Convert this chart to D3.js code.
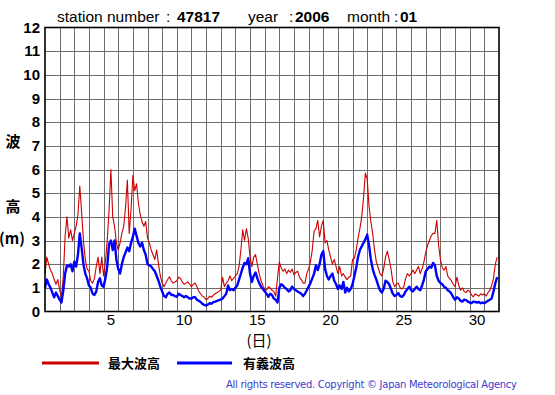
<!DOCTYPE html>
<html>
<head>
<meta charset="utf-8">
<script src="https://cdn.jsdelivr.net/npm/d3@7"></script>
<style>
  body { margin: 0; background: #fff; }
  svg { display: block; }
  text { font-family: "Liberation Sans", Arial, sans-serif; }
  .jp { font-family: "Noto Sans CJK JP", sans-serif; }
</style>
</head>
<body>
<div id="chart"></div>
<script>
'use strict';

var station = '47817';
var year = '2006';
var month = '01';

// 3-hourly samples, day 1 00h .. day 31 21h
var stepHours = 3;

// max wave height (m)
var maxWave = [
  1.6, 2.3, 2.0, 1.75, 1.6, 1.35, 1.15, 1.35,
  0.9, 0.6, 1.5, 3.2, 4.0, 3.1, 3.45, 3.0,
  3.3, 3.6, 4.1, 5.3, 4.2, 3.0, 2.2, 1.8,
  1.7, 1.3, 1.2, 1.4, 1.9, 2.3, 1.6, 2.3,
  1.5, 2.1, 3.0, 4.3, 6.0, 4.0, 3.6, 2.9,
  2.6, 2.9, 3.3, 3.6, 4.4, 5.55, 3.3, 4.3,
  5.75, 5.1, 5.4, 4.6, 4.1, 3.8, 3.6, 3.8,
  3.1, 2.9, 2.6, 2.4, 2.2, 2.6, 2.0, 1.5,
  1.2, 1.05, 1.2, 1.35, 1.47, 1.3, 1.2, 1.25,
  1.3, 1.45, 1.4, 1.25, 1.15, 1.2, 1.25, 1.15,
  1.05, 1.15, 1.2, 1.05, 0.85, 0.75, 0.65, 0.6,
  0.5, 0.55, 0.65, 0.6, 0.7, 0.75, 0.8, 0.85,
  0.9, 1.45, 1.05, 1.2, 1.3, 1.5, 1.3, 1.4,
  1.5, 1.6, 1.9, 2.6, 3.45, 3.0, 3.5, 3.1,
  2.3, 1.9, 2.3, 2.4, 2.0, 1.6, 1.3, 1.1,
  0.95, 0.9, 1.05, 1.0, 0.9, 0.85, 0.65, 1.4,
  2.1, 1.85, 1.7, 1.8, 1.6, 1.75, 1.65, 1.8,
  1.55, 1.65, 1.7, 1.45, 1.35, 1.2, 1.2, 1.6,
  1.8, 2.1, 2.6, 3.4, 3.5, 3.85, 3.15, 3.6,
  3.85, 2.9, 3.0, 2.6, 2.3, 2.0, 2.2, 1.9,
  1.6, 1.9, 1.5, 1.6, 1.45, 1.35, 1.45, 1.5,
  2.2, 2.25, 2.6, 3.1, 3.5, 4.0, 4.8, 5.85,
  5.6, 4.45, 3.8, 3.3, 2.6, 2.1, 1.85, 1.6,
  1.5, 1.8, 2.3, 2.55, 2.2, 1.8, 1.25, 1.05,
  1.15, 1.2, 1.0, 0.95, 1.05, 1.4, 1.6, 1.5,
  1.6, 1.75, 1.6, 1.75, 1.9, 1.6, 1.8, 2.1,
  2.5, 2.8, 3.0, 3.2, 3.3, 3.3, 3.85, 2.8,
  2.2, 1.85, 1.75, 1.9, 1.5, 1.4, 1.3, 1.15,
  1.05, 1.45, 1.1, 0.9, 1.0, 0.85, 0.8, 0.9,
  0.85, 0.7, 0.62, 0.75, 0.7, 0.65, 0.75, 0.7,
  0.75, 0.65, 0.8, 0.9, 1.1, 1.4, 2.0, 2.3
];

// significant wave height (m)
var sigWave = [
  1.0, 1.35, 1.15, 1.0, 0.8, 0.6, 0.8, 0.65,
  0.5, 0.38, 0.9, 1.6, 1.95, 1.9, 2.0, 1.7,
  2.1, 1.9, 2.4, 3.3, 2.7, 2.0, 1.6, 1.4,
  1.1, 1.0, 0.75, 0.7, 0.85, 1.25, 1.4, 1.1,
  1.05, 1.4, 1.9, 2.85, 3.0, 2.6, 3.0, 2.2,
  1.8, 1.6, 2.0, 2.3, 2.5, 2.7, 2.55, 2.9,
  3.15, 3.5, 3.2, 2.9, 2.75, 2.9, 2.6, 2.4,
  2.0, 1.95, 1.9, 1.8, 1.7, 1.5, 1.3, 1.05,
  0.85, 0.65, 0.6, 0.75, 0.8, 0.7, 0.7, 0.65,
  0.62, 0.75, 0.7, 0.65, 0.6, 0.65, 0.6, 0.55,
  0.55, 0.6, 0.6, 0.5, 0.45, 0.4, 0.32, 0.28,
  0.25, 0.3, 0.35, 0.33, 0.4, 0.42, 0.45, 0.48,
  0.5, 0.55, 0.65, 0.75, 1.1, 0.9, 0.95, 0.9,
  1.0, 1.1, 1.35, 1.6, 1.85, 2.05, 2.0, 2.25,
  1.6, 1.25, 1.5, 1.65, 1.4, 1.2, 1.05, 0.95,
  0.85, 0.75, 0.62, 0.75, 0.7, 0.55, 0.5, 0.38,
  1.0, 1.15, 1.1, 1.0, 0.95, 0.85, 0.9, 1.05,
  0.95, 0.9, 0.85, 0.8, 0.75, 0.65, 0.75, 0.9,
  1.05, 1.2, 1.4, 1.6, 1.95, 1.75, 2.0, 2.4,
  2.55, 1.8, 1.5, 1.35, 1.5, 1.6, 1.3, 1.15,
  0.95, 1.1, 0.95, 1.25, 0.8, 1.0, 0.85, 0.95,
  1.15, 1.5, 1.85, 2.3, 2.6, 2.75, 2.9, 3.05,
  3.25, 2.8, 2.2, 1.8, 1.55, 1.35, 1.1, 0.9,
  0.8, 0.95, 1.3, 1.25, 1.15, 0.95, 0.75, 0.65,
  0.7, 0.78, 0.65, 0.62, 0.7, 0.85, 0.95, 1.05,
  0.9, 0.85, 0.95, 1.05, 0.95, 0.9, 1.1, 1.35,
  1.7, 1.8, 1.9, 1.85, 2.05, 1.95, 1.5, 1.3,
  1.2, 1.15, 1.05, 1.0, 0.9, 0.85, 0.75, 0.6,
  0.5, 0.6, 0.55, 0.45, 0.42, 0.5, 0.48, 0.42,
  0.38, 0.35, 0.42, 0.4, 0.38, 0.4, 0.35, 0.38,
  0.35, 0.4, 0.45, 0.5, 0.55, 0.85, 1.2, 1.45
];

var yTicks = [0, 1, 2, 3, 4, 5, 6, 7, 8, 9, 10, 11, 12];
var xTickDays = [5, 10, 15, 20, 25, 30];
var legendNames = ['最大波高', '有義波高'];

var W = 555, H = 395;
var box = { left: 45, right: 499, top: 27.5, bottom: 311.5 };

var svg = d3.select('#chart').append('svg')
  .attr('width', W)
  .attr('height', H);

var x = d3.scaleLinear().domain([1, 32]).range([box.left, box.right]);
var y = d3.scaleLinear().domain([0, 12]).range([box.bottom, box.top]);

// grid
var grid = svg.append('g').attr('class', 'grid')
  .attr('stroke', '#6e6e6e')
  .attr('stroke-width', 1)
  .attr('shape-rendering', 'crispEdges');

grid.selectAll('line.h')
  .data(yTicks.slice(1, -1))
  .enter().append('line')
  .attr('class', 'h')
  .attr('x1', box.left).attr('x2', box.right)
  .attr('y1', (d) => Math.round(y(d)) + 0.5)
  .attr('y2', (d) => Math.round(y(d)) + 0.5);

grid.selectAll('line.v')
  .data(d3.range(2, 32))
  .enter().append('line')
  .attr('class', 'v')
  .attr('y1', box.top).attr('y2', box.bottom)
  .attr('x1', (d) => Math.round(x(d)) + 0.5)
  .attr('x2', (d) => Math.round(x(d)) + 0.5);

// series
var t = (d, i) => 1 + i * stepHours / 24;

var line = d3.line()
  .x((d, i) => x(t(d, i)))
  .y((d) => y(d));

svg.append('path')
  .datum(maxWave)
  .attr('fill', 'none')
  .attr('stroke', '#cc0000')
  .attr('stroke-width', 1.1)
  .attr('stroke-linejoin', 'round')
  .attr('d', line);

svg.append('path')
  .datum(sigWave)
  .attr('fill', 'none')
  .attr('stroke', '#0000ff')
  .attr('stroke-width', 2.4)
  .attr('stroke-linejoin', 'round')
  .attr('d', line);

// frame
svg.append('rect')
  .attr('x', box.left).attr('y', box.top)
  .attr('width', box.right - box.left)
  .attr('height', box.bottom - box.top)
  .attr('fill', 'none')
  .attr('stroke', '#000')
  .attr('stroke-width', 1.6);

// y axis labels
svg.append('g')
  .selectAll('text')
  .data(yTicks)
  .enter().append('text')
  .attr('x', 40)
  .attr('y', (d) => y(d) + 5)
  .attr('text-anchor', 'end')
  .attr('font-size', 15)
  .attr('font-weight', 'bold')
  .text((d) => d);

// x axis labels (centred on the day)
svg.append('g')
  .selectAll('text')
  .data(xTickDays)
  .enter().append('text')
  .attr('x', (d) => x(d + 0.5))
  .attr('y', 325)
  .attr('text-anchor', 'middle')
  .attr('font-size', 15)
  .text((d) => d);

// axis titles
svg.append('text').attr('class', 'jp')
  .attr('x', 259).attr('y', 346)
  .attr('text-anchor', 'middle')
  .attr('font-size', 15)
  .text('(日)');

var yTitle = [['波', 147], ['高', 212], ['(m)', 244]];
svg.append('g')
  .selectAll('text')
  .data(yTitle)
  .enter().append('text')
  .attr('class', 'jp')
  .attr('x', (d) => d[0] === '(m)' ? 12 : 13)
  .attr('y', (d) => d[1])
  .attr('text-anchor', 'middle')
  .attr('font-size', 15)
  .attr('font-weight', 'bold')
  .text((d) => d[0]);

// header: label, colon and value placed as in the original
var header = [
  { text: 'station number', x: 57, bold: false },
  { text: ':', x: 166, bold: false },
  { text: station, x: 177, bold: true },
  { text: 'year', x: 248, bold: false },
  { text: ':', x: 289, bold: false },
  { text: year, x: 295, bold: true },
  { text: 'month', x: 347, bold: false },
  { text: ':', x: 394, bold: false },
  { text: month, x: 400, bold: true }
];
svg.append('g')
  .selectAll('text')
  .data(header)
  .enter().append('text')
  .attr('x', (d) => d.x)
  .attr('y', 22)
  .attr('font-size', 15.5)
  .attr('font-weight', (d) => d.bold ? 'bold' : 'normal')
  .text((d) => d.text);

// legend
var legend = [
  { name: legendNames[0], color: '#cc0000', x1: 42, x2: 99, tx: 108 },
  { name: legendNames[1], color: '#0000ff', x1: 177, x2: 232, tx: 243 }
];
var lg = svg.append('g').selectAll('g').data(legend).enter().append('g');
lg.append('line')
  .attr('x1', (d) => d.x1).attr('x2', (d) => d.x2)
  .attr('y1', 363).attr('y2', 363)
  .attr('stroke', (d) => d.color)
  .attr('stroke-width', 3);
lg.append('text')
  .attr('class', 'jp')
  .attr('x', (d) => d.tx).attr('y', 368)
  .attr('font-size', 13)
  .attr('font-weight', 'bold')
  .text((d) => d.name);

svg.append('text')
  .attr('x', 226).attr('y', 388)
  .attr('font-size', 10)
  .attr('fill', '#3c3cd0')
  .attr('textLength', 291)
  .attr('lengthAdjust', 'spacing')
  .style('font-family', '"DejaVu Sans", sans-serif')
  .text('All rights reserved. Copyright \u00a9 Japan Meteorological Agency');
</script>
</body>
</html>
